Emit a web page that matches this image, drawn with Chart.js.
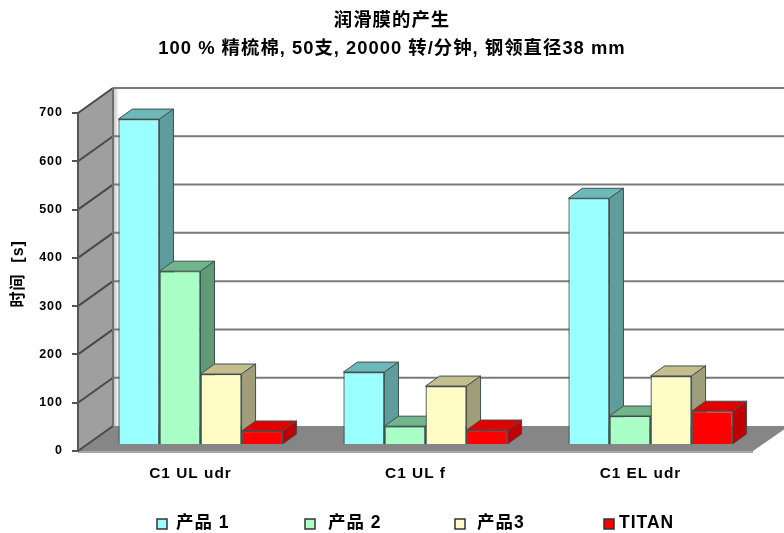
<!DOCTYPE html>
<html>
<head>
<meta charset="utf-8">
<style>
  html, body { margin: 0; padding: 0; background: #fff; }
  canvas { display: block; }
</style>
<script src="https://cdn.jsdelivr.net/npm/chart.js@4/dist/chart.umd.min.js"></script>
</head>
<body>
<canvas id="can" width="784" height="533"></canvas>
<script>
var categories = ["C1 UL udr", "C1 UL f", "C1 EL udr"];
var product1 = [675, 151, 511];
var product2 = [360, 39, 60];
var product3 = [147, 122, 143];
var titan = [29, 31, 70];
var seriesNames = ["产品 1", "产品 2", "产品3", "TITAN"];
var titleLines = ["润滑膜的产生", "100 % 精梳棉, 50支, 20000 转/分钟, 钢领直径38 mm"];
var yTitle = "   时间  [s]";
var yMax = 700;
var yStep = 100;

var fontFamily = '"Liberation Sans", "Noto Sans CJK SC", sans-serif';

// front, top and side shades of each box
var faces = [
  ["#99ffff", "#6db9b9", "#5f9c9c"],
  ["#a9ffc6", "#70b68a", "#629a78"],
  ["#fffbc4", "#c4be8e", "#a09e78"],
  ["#ff0000", "#e00000", "#c00000"],
];

var wallDx = 35; // depth of the room
var wallDy = -25;
var barDx = 14; // depth of one box
var barDy = -10;
var planeDx = 10; // boxes stand a little inside the floor
var planeDy = -6;

// legend swatch and text x, the legend is laid out by hand
var swatchX = [157, 305, 455, 604];
var labelX = [176, 328, 477, 619];

function poly(ctx, pts, fill, stroke, width) {
  ctx.beginPath();
  ctx.moveTo(pts[0][0], pts[0][1]);
  for (var i = 1; i < pts.length; i++) {
    ctx.lineTo(pts[i][0], pts[i][1]);
  }
  ctx.closePath();
  if (fill) {
    ctx.fillStyle = fill;
    ctx.fill();
  }
  if (stroke) {
    ctx.strokeStyle = stroke;
    ctx.lineWidth = width || 1;
    ctx.stroke();
  }
}

function line(ctx, x0, y0, x1, y1, color) {
  ctx.strokeStyle = color;
  ctx.beginPath();
  ctx.moveTo(x0, y0);
  ctx.lineTo(x1, y1);
  ctx.stroke();
}

var roomPlugin = {
  id: "room",
  afterLayout: function (chart) {
    chart.titleBlock.right = chart.width; // center the title on the canvas, not the padded box
  },
  beforeDraw: function (chart) {
    chart.ctx.letterSpacing = "1px"; // all the text in this chart is spaced out
  },
  // side wall, floor and back wall with its grid
  beforeDatasetsDraw: function (chart) {
    var ctx = chart.ctx;
    var area = chart.chartArea;
    var y = chart.scales.y;
    var l = area.left, r = area.right, b = area.bottom, t = area.top;
    var edge = chart.width + 5;

    var shade = ctx.createLinearGradient(l + wallDx, 0, l + wallDx + 6, 0);
    shade.addColorStop(0, "#bdbdbd");
    shade.addColorStop(1, "#ffffff");
    ctx.fillStyle = shade;
    ctx.fillRect(l + wallDx, t + wallDy, 6, b - t);

    poly(ctx, [[l, b], [l + wallDx, b + wallDy], [edge, b + wallDy], [r, b]], "#868686");
    poly(ctx, [[l, b], [l + wallDx, b + wallDy], [l + wallDx, t + wallDy], [l, t]], "#9f9f9f");

    ctx.lineWidth = 2;
    for (var v = 0; v <= yMax; v += yStep) {
      var py = y.getPixelForValue(v);
      line(ctx, l, py, l + wallDx, py + wallDy, "#4a4a4a");
      if (v > 0) {
        line(ctx, l + wallDx, py + wallDy, edge, py + wallDy, "#7a7a7a");
      }
    }
    line(ctx, l, b + 1, r, b + 1, "#a8a8a8");
    line(ctx, l + wallDx, t + wallDy, l + wallDx, b + wallDy, "#707070");
    line(ctx, l, t, l, b + 1, "#555555");
  },
  // the library paints last dataset first, here the left box must go under
  beforeDatasetDraw: function () {
    return false;
  },
  afterDatasetsDraw: function (chart) {
    var ctx = chart.ctx;
    ctx.save();
    ctx.translate(planeDx, planeDy);
    for (var i = 0; i < faces.length; i++) {
      var meta = chart.getDatasetMeta(i);
      meta.data.forEach(function (bar) {
        var x0 = bar.x - bar.width / 2;
        var x1 = bar.x + bar.width / 2;
        var top = bar.y;
        var base = bar.base;
        poly(ctx, [[x0, top], [x0 + barDx, top + barDy], [x1 + barDx, top + barDy], [x1, top]], faces[i][1], "#405050");
        poly(ctx, [[x1, top], [x1 + barDx, top + barDy], [x1 + barDx, base + barDy], [x1, base]], faces[i][2], "#405050");
      });
      meta.controller.draw();
    }
    ctx.restore();
  },
  afterDraw: function (chart) {
    var ctx = chart.ctx;
    ctx.save();
    ctx.font = "bold 17.5px " + fontFamily;
    ctx.textBaseline = "middle";
    ctx.textAlign = "left";
    for (var i = 0; i < seriesNames.length; i++) {
      ctx.fillStyle = faces[i][0];
      ctx.strokeStyle = "#333333";
      ctx.lineWidth = 1.5;
      ctx.fillRect(swatchX[i], 519, 10, 10);
      ctx.strokeRect(swatchX[i], 519, 10, 10);
      ctx.fillStyle = "#000";
      ctx.fillText(seriesNames[i], labelX[i], 523);
    }
    ctx.restore();
  },
};

function makebars() {
  var ctx = document.getElementById("can").getContext("2d");
  var values = [product1, product2, product3, titan];
  var chart = new Chart(ctx, {
    type: "bar",
    plugins: [roomPlugin],
    data: {
      labels: categories,
      datasets: values.map(function (vals, i) {
        return {
          label: seriesNames[i],
          data: vals,
          backgroundColor: faces[i][0],
          borderColor: "#405050",
          borderWidth: 1.3,
          barPercentage: 1,
          categoryPercentage: 0.73,
        };
      }),
    },
    options: {
      responsive: false,
      animation: false,
      layout: { padding: { right: 31 } },
      plugins: {
        tooltip: { enabled: false },
        legend: { display: false },
        title: {
          display: true,
          text: titleLines,
          color: "#000",
          font: { family: fontFamily, size: 18.4, weight: "bold", lineHeight: 1.522 },
          padding: { top: 7, bottom: 50 },
        },
      },
      scales: {
        x: {
          grid: { display: false },
          border: { display: false },
          ticks: {
            color: "#000",
            padding: 6,
            font: { family: fontFamily, size: 15.4, weight: "bold" },
          },
          afterFit: function (s) {
            s.height = 82;
          },
        },
        y: {
          min: 0,
          max: yMax,
          ticks: {
            stepSize: yStep,
            color: "#000",
            padding: 9,
            font: { family: fontFamily, size: 12.5, weight: "bold" },
          },
          grid: { drawOnChartArea: false, tickLength: 6, tickColor: "#555", lineWidth: 2 },
          border: { color: "#555", width: 2 },
          title: {
            display: true,
            text: yTitle,
            color: "#000",
            padding: { top: 9, bottom: 0 },
            font: { family: fontFamily, size: 16, weight: "bold" },
          },
          afterFit: function (s) {
            s.width = 78;
          },
        },
      },
    },
  });
  return chart;
}

makebars();
</script>
</body>
</html>
